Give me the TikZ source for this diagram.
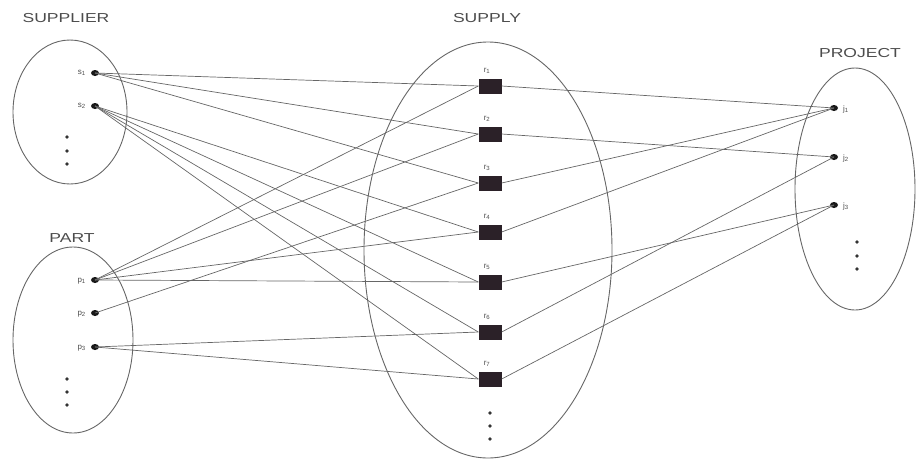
\documentclass[tikz,border=0pt]{standalone}
\usepackage{fontspec}
\setmainfont{Liberation Sans}
\usetikzlibrary{shapes.geometric}
\definecolor{relfill}{HTML}{2B2128}
\begin{document}
\begin{tikzpicture}[x=1pt,y=-1pt,
  setell/.style={draw=black!60,line width=0.9pt},
  title/.style={text=black!70,font=\fontsize{13}{13}\selectfont,inner sep=0pt},
  elem/.style={ellipse,fill=black!90,minimum width=8pt,minimum height=6pt,inner sep=0pt},
  rel/.style={rectangle,fill=relfill,minimum width=23pt,minimum height=15pt,inner sep=0pt},
  lab/.style={text=black!70,font=\fontsize{8}{8}\selectfont,inner sep=0pt},
  vdot/.style={circle,fill=black!80,minimum size=3.8pt,inner sep=0pt},
  conn/.style={draw=black!60,line width=0.7pt}]
\useasboundingbox (0,0) rectangle (916,461);
% sets
\draw[setell] (70,112) ellipse [x radius=57,y radius=72];
\draw[setell] (73,340) ellipse [x radius=60,y radius=93];
\draw[setell] (488,250) ellipse [x radius=124,y radius=208];
\draw[setell] (855,189) ellipse [x radius=60,y radius=121];
% titles
\node[title] (tsup) at (66,18) {\scalebox{1.35}[1]{SUPPLIER}};
\node[title] (tpart) at (72,238) {\scalebox{1.35}[1]{PART}};
\node[title] (tsupply) at (487,18) {\scalebox{1.35}[1]{SUPPLY}};
\node[title] (tproj) at (860,53) {\scalebox{1.35}[1]{PROJECT}};
% suppliers
\node[elem] (s1) at (95,73) {};
\node[elem] (s2) at (95,106) {};
\node[lab,anchor=east] (ls1) at (86,73) {s\textsubscript{1}};
\node[lab,anchor=east] (ls2) at (86,106) {s\textsubscript{2}};
\foreach \y [count=\i] in {137,151,164} \node[vdot] (sd\i) at (67,\y) {};
% parts
\node[elem] (p1) at (95,280) {};
\node[elem] (p2) at (95,313) {};
\node[elem] (p3) at (95,347) {};
\node[lab,anchor=east] (lp1) at (86,281) {p\textsubscript{1}};
\node[lab,anchor=east] (lp2) at (86,314) {p\textsubscript{2}};
\node[lab,anchor=east] (lp3) at (86,348) {p\textsubscript{3}};
\foreach \y [count=\i] in {379,392,405} \node[vdot] (pd\i) at (67,\y) {};
% supply relationship
\foreach \y [count=\i] in {86,134,183,232,282,332,379} {
  \node[rel] (r\i) at (490,\y) {};
  \node[lab] (lr\i) at (487,\y-15) {r\textsubscript{\i}};
}
\foreach \y [count=\i] in {413,426,439} \node[vdot] (rd\i) at (490,\y) {};
% projects
\node[elem] (j1) at (834,108) {};
\node[elem] (j2) at (834,157) {};
\node[elem] (j3) at (834,205) {};
\node[lab,anchor=west] (lj1) at (843,109) {j\textsubscript{1}};
\node[lab,anchor=west] (lj2) at (843,158) {j\textsubscript{2}};
\node[lab,anchor=west] (lj3) at (843,206) {j\textsubscript{3}};
\foreach \y [count=\i] in {242,256,269} \node[vdot] (jd\i) at (857,\y) {};
% connectors left
\foreach \a/\b in {s1/r1,s1/r2,s1/r3,s2/r4,s2/r5,s2/r6,s2/r7,p1/r1,p1/r2,p1/r4,p1/r5,p2/r3,p3/r6,p3/r7}
  \draw[conn] (\a.center) -- (\b.west);
% connectors right
\foreach \a/\b in {r1/j1,r2/j2,r3/j1,r4/j1,r5/j3,r6/j2,r7/j3}
  \draw[conn] (\a.east) -- (\b.center);
\end{tikzpicture}
\end{document}
